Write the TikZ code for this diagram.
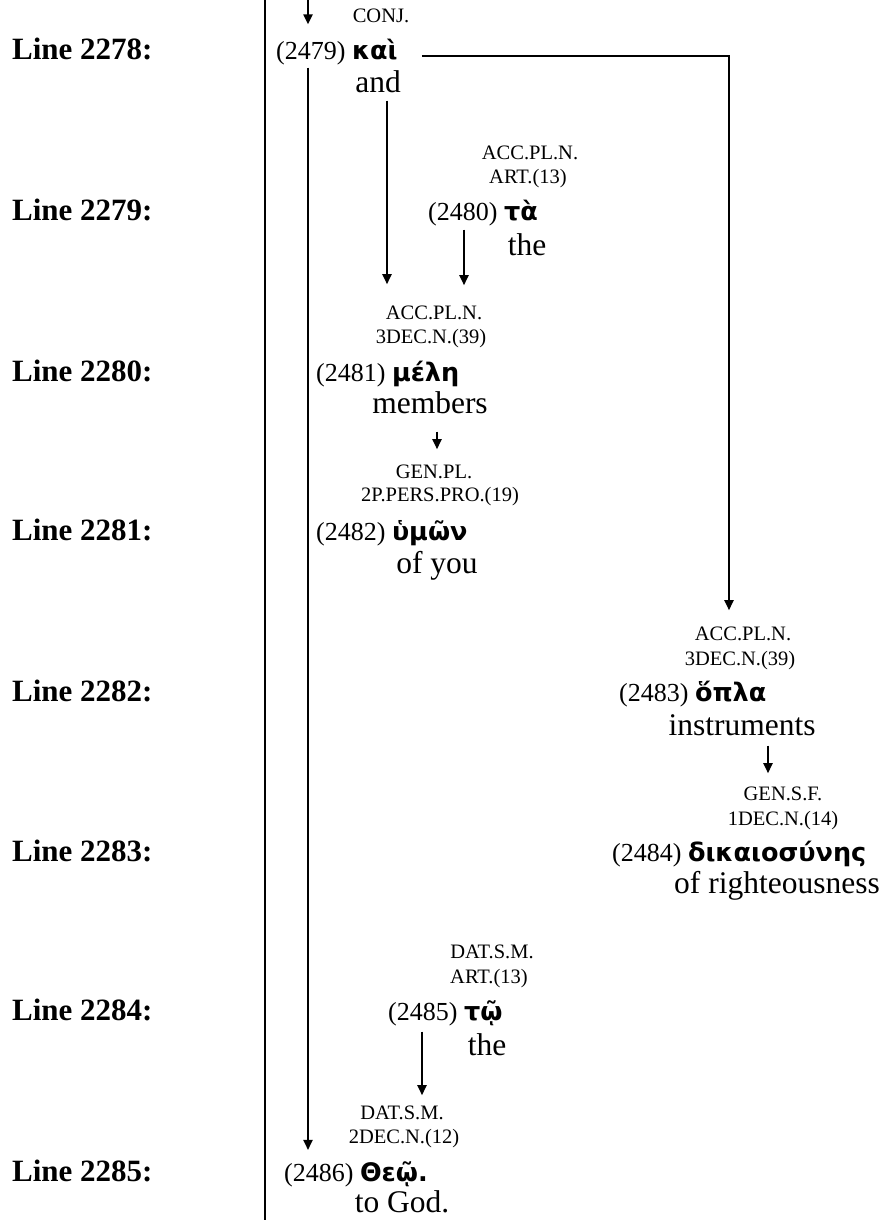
\documentclass[tikz,border=0pt]{standalone}
\usepackage{fontspec}
\setmainfont{Liberation Serif}
\newfontfamily\gk{DejaVu Sans}
\usetikzlibrary{arrows.meta}
\newcommand\gw[1]{{\gk\bfseries\fontsize{25.5}{30}\selectfont #1}}
\tikzset{
 lbl/.style={font=\fontsize{31}{36}\selectfont\bfseries, inner sep=0pt, anchor=base west},
 tag/.style={font=\fontsize{20.5}{24}\selectfont, inner sep=0pt, anchor=base},
 wrd/.style={font=\fontsize{26}{30}\selectfont, inner sep=0pt, anchor=base west},
 gls/.style={font=\fontsize{31.5}{36}\selectfont, inner sep=0pt, anchor=base},
 arr/.style={line width=2pt, -{Triangle[length=10pt,width=9pt]}},
 rule/.style={line width=2.5pt},
}
\begin{document}
\begin{tikzpicture}[x=1pt,y=-1pt]
\useasboundingbox (0,0) rectangle (885,1220);
% border
\coordinate (bt) at (265,0);
\coordinate (bb) at (265,1220);
\draw[rule] (bt) -- (bb);
% line labels
\node[lbl] (l2278) at (12,60) {Line 2278:};
\node[lbl] (l2279) at (12,220) {Line 2279:};
\node[lbl] (l2280) at (12,381) {Line 2280:};
\node[lbl] (l2281) at (12,540) {Line 2281:};
\node[lbl] (l2282) at (12,701) {Line 2282:};
\node[lbl] (l2283) at (12,861) {Line 2283:};
\node[lbl] (l2284) at (12,1020) {Line 2284:};
\node[lbl] (l2285) at (12,1181) {Line 2285:};
% words
\node[wrd] (w2479) at (276,60) {(2479) \gw{καὶ}};
\node[wrd] (w2480) at (428,220) {(2480) \gw{τὰ}};
\node[wrd] (w2481) at (316,381) {(2481) \gw{μέλη}};
\node[wrd] (w2482) at (316,540) {(2482) \gw{ὑμῶν}};
\node[wrd] (w2483) at (619,701) {(2483) \gw{ὅπλα}};
\node[wrd] (w2484) at (612,861) {(2484) \gw{δικαιοσύνης}};
\node[wrd] (w2485) at (388,1020) {(2485) \gw{τῷ}};
\node[wrd] (w2486) at (284,1181) {(2486) \gw{Θεῷ.}};
% tags
\node[tag] (t2479) at (381,23) {CONJ.};
\node[tag] (t2480a) at (530,159) {ACC.PL.N.};
\node[tag] (t2480b) at (528,183) {ART.(13)};
\node[tag] (t2481a) at (434,319) {ACC.PL.N.};
\node[tag] (t2481b) at (431,343) {3DEC.N.(39)};
\node[tag] (t2482a) at (434,478) {GEN.PL.};
\node[tag] (t2482b) at (440,501) {2P.PERS.PRO.(19)};
\node[tag] (t2483a) at (743,640) {ACC.PL.N.};
\node[tag] (t2483b) at (740,665) {3DEC.N.(39)};
\node[tag] (t2484a) at (783,800) {GEN.S.F.};
\node[tag] (t2484b) at (783,825) {1DEC.N.(14)};
\node[tag] (t2485a) at (492,958) {DAT.S.M.};
\node[tag] (t2485b) at (489,983) {ART.(13)};
\node[tag] (t2486a) at (402,1119) {DAT.S.M.};
\node[tag] (t2486b) at (404,1143) {2DEC.N.(12)};
% glosses
\node[gls] (g2479) at (378,93) {and};
\node[gls] (g2480) at (527,255) {the};
\node[gls] (g2481) at (430,413) {members};
\node[gls] (g2482) at (437,573) {of you};
\node[gls] (g2483) at (742,735) {instruments};
\node[gls] (g2484) at (777,893) {of righteousness};
\node[gls] (g2485) at (487,1055) {the};
\node[gls] (g2486) at (402,1212) {to God.};
% connector columns
\coordinate (in0) at (308,0);
\coordinate (ax) at (308,0);
\coordinate (bx) at (729,0);
\coordinate (cx) at (387,0);
\coordinate (dx) at (464,0);
\coordinate (ex) at (437,0);
\coordinate (fx) at (768,0);
\coordinate (hx) at (422,0);
% connectors
\draw[arr, shorten >=15pt] (in0) -- (in0 |- w2479.north);
\draw[arr, shorten <=2pt, shorten >=11pt] (ax |- w2479.south) -- (ax |- w2486.north);
\draw[arr, shorten >=16pt] ([xshift=24pt,yshift=-3pt]w2479.east) -| (bx |- t2483a.north);
\draw[arr, shorten <=7pt, shorten >=21pt] (cx |- g2479.south) -- (cx |- t2481a.north);
\draw[arr, shorten <=4pt, shorten >=20pt] (dx |- w2480.south) -- (dx |- t2481a.north);
\draw[arr, shorten <=18pt, shorten >=15pt] (ex |- g2481.south) -- (ex |- t2482a.north);
\draw[arr, shorten <=10pt, shorten >=13pt] (fx |- g2483.south) -- (fx |- t2484a.north);
\draw[arr, shorten <=6pt, shorten >=10pt] (hx |- w2485.south) -- (hx |- t2486a.north);
\end{tikzpicture}
\end{document}
